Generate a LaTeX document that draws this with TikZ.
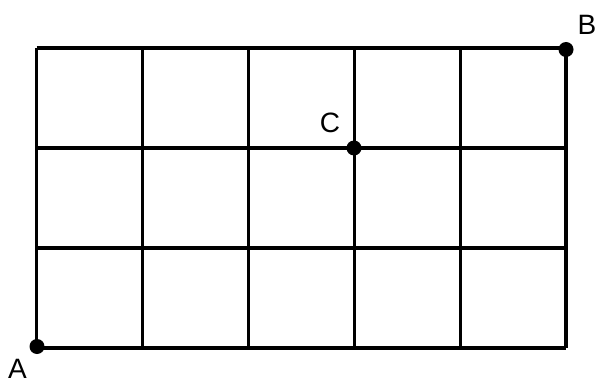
\documentclass[tikz,border=0pt]{standalone}
\usepackage{fontspec}
\setmainfont{Liberation Sans}
\begin{document}
\begin{tikzpicture}[x=1pt,y=-1pt,
  gridline/.style={line width=3.5pt,black},
  dot/.style={circle,fill=black,inner sep=0pt,minimum size=15pt},
  lbl/.style={font=\fontsize{28}{28}\selectfont,inner sep=0pt}]
\useasboundingbox (0,0) rectangle (599,385);
\foreach \x in {36.5,142.5,248.5,354.5,460.5,566} {
  \draw[gridline] (\x,48) -- (\x,348);
}
\foreach \y in {48,148,248,348} {
  \draw[gridline] (36.5,\y) -- (566,\y);
}
\node[dot] (A) at (37,346.5) {};
\node[dot] (B) at (566,49.5) {};
\node[dot] (C) at (354,148) {};
\node[lbl] (la) at (17.5,368.5) {A};
\node[lbl] (lb) at (587,24.5) {B};
\node[lbl] (lc) at (330,123) {C};
\end{tikzpicture}
\end{document}
